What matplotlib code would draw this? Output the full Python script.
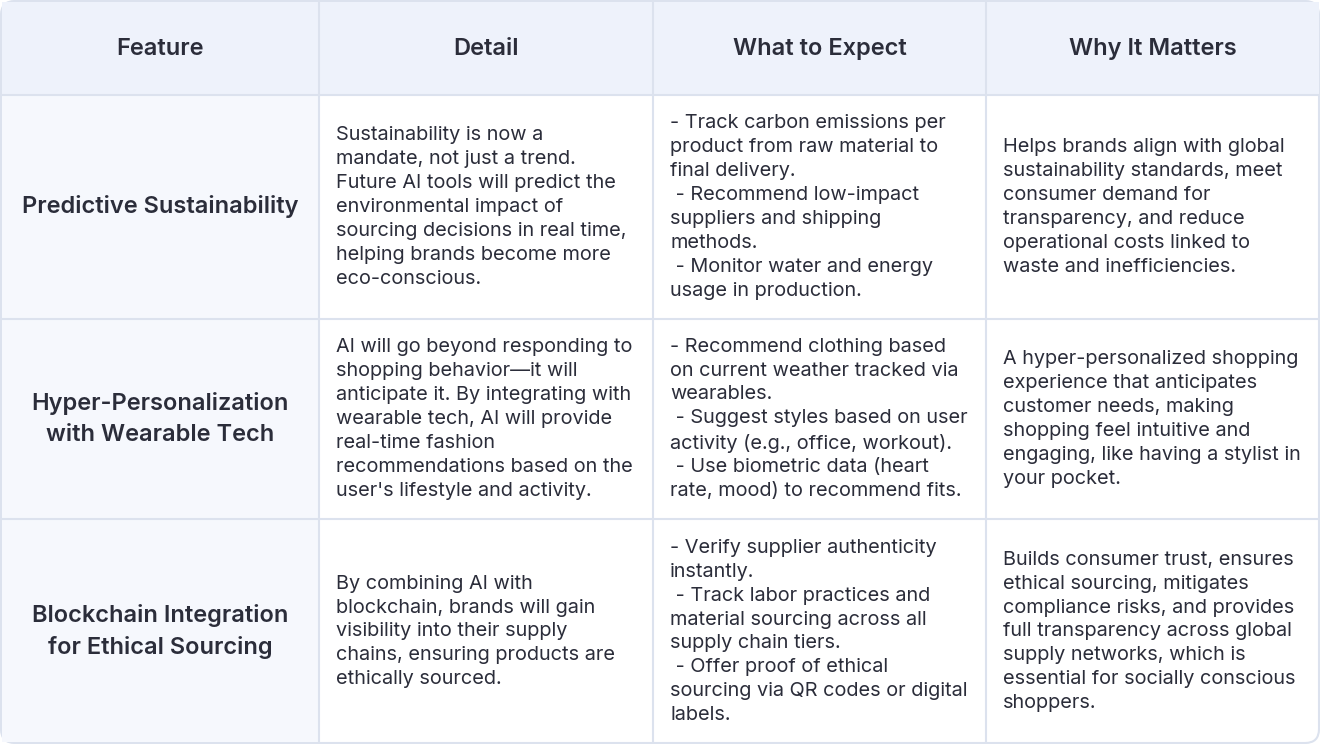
import matplotlib
matplotlib.use("Agg")
import matplotlib.pyplot as plt
from matplotlib.patches import FancyBboxPatch, Rectangle

headers = ["Feature", "Detail", "What to Expect", "Why It Matters"]
features = [
    "Predictive Sustainability",
    "Hyper-Personalization\nwith Wearable Tech",
    "Blockchain Integration\nfor Ethical Sourcing",
]
details = [
    "Sustainability is now a\nmandate, not just a trend.\nFuture AI tools will predict the\nenvironmental impact of\nsourcing decisions in real time,\nhelping brands become more\neco-conscious.",
    "AI will go beyond responding to\nshopping behavior\u2014it will\nanticipate it. By integrating with\nwearable tech, AI will provide\nreal-time fashion\nrecommendations based on the\nuser's lifestyle and activity.",
    "By combining AI with\nblockchain, brands will gain\nvisibility into their supply\nchains, ensuring products are\nethically sourced.",
]
expects = [
    "- Track carbon emissions per\nproduct from raw material to\nfinal delivery.\n - Recommend low-impact\nsuppliers and shipping\nmethods.\n - Monitor water and energy\nusage in production.",
    "- Recommend clothing based\non current weather tracked via\nwearables.\n - Suggest styles based on user\nactivity (e.g., office, workout).\n - Use biometric data (heart\nrate, mood) to recommend fits.",
    "- Verify supplier authenticity\ninstantly.\n - Track labor practices and\nmaterial sourcing across all\nsupply chain tiers.\n - Offer proof of ethical\nsourcing via QR codes or digital\nlabels.",
]
whys = [
    "Helps brands align with global\nsustainability standards, meet\nconsumer demand for\ntransparency, and reduce\noperational costs linked to\nwaste and inefficiencies.",
    "A hyper-personalized shopping\nexperience that anticipates\ncustomer needs, making\nshopping feel intuitive and\nengaging, like having a stylist in\nyour pocket.",
    "Builds consumer trust, ensures\nethical sourcing, mitigates\ncompliance risks, and provides\nfull transparency across global\nsupply networks, which is\nessential for socially conscious\nshoppers.",
]

col_x = [0, 319, 653, 986, 1320]
row_y = [0, 95, 319, 519, 744]
line_c = "#dce2ee"
text_c = "#2b2d3a"
plt.rcParams["font.family"] = "Inter"

fig = plt.figure(figsize=(13.2, 7.44), dpi=100)
ax = fig.add_axes([0, 0, 1, 1])
ax.set_xlim(0, 1320)
ax.set_ylim(744, 0)
ax.axis("off")

ax.add_patch(FancyBboxPatch((1, 1), 1318, 742, boxstyle="round,pad=0,rounding_size=14",
                            fc="white", ec=line_c, lw=1.5, zorder=0))
ax.add_patch(Rectangle((1.5, 1.5), 1317, 93.5, fc="#eef2fb", ec="none", zorder=0.5))
ax.add_patch(Rectangle((1.5, 95), 317.5, 647, fc="#f6f8fd", ec="none", zorder=0.5))
for x in col_x[1:-1]:
    ax.plot([x, x], [1, 743], color=line_c, lw=1.5, zorder=1)
for y in row_y[1:-1]:
    ax.plot([1, 1319], [y, y], color=line_c, lw=1.5, zorder=1)

for i, h in enumerate(headers):
    ax.text((col_x[i] + col_x[i + 1]) / 2, 49, h, ha="center", va="center",
            fontsize=17, fontweight="semibold", color=text_c)

for r in range(3):
    yc = (row_y[r + 1] + row_y[r + 2]) / 2
    ax.text(160, yc, features[r], ha="center", va="center", fontsize=17,
            fontweight="semibold", color=text_c, linespacing=1.5)
    for c, col in enumerate([details, expects, whys]):
        ax.text(col_x[c + 1] + 17, yc, col[r], ha="left", va="center",
                fontsize=14.3, color=text_c, linespacing=1.42)

fig.savefig("out.png", dpi=100)
